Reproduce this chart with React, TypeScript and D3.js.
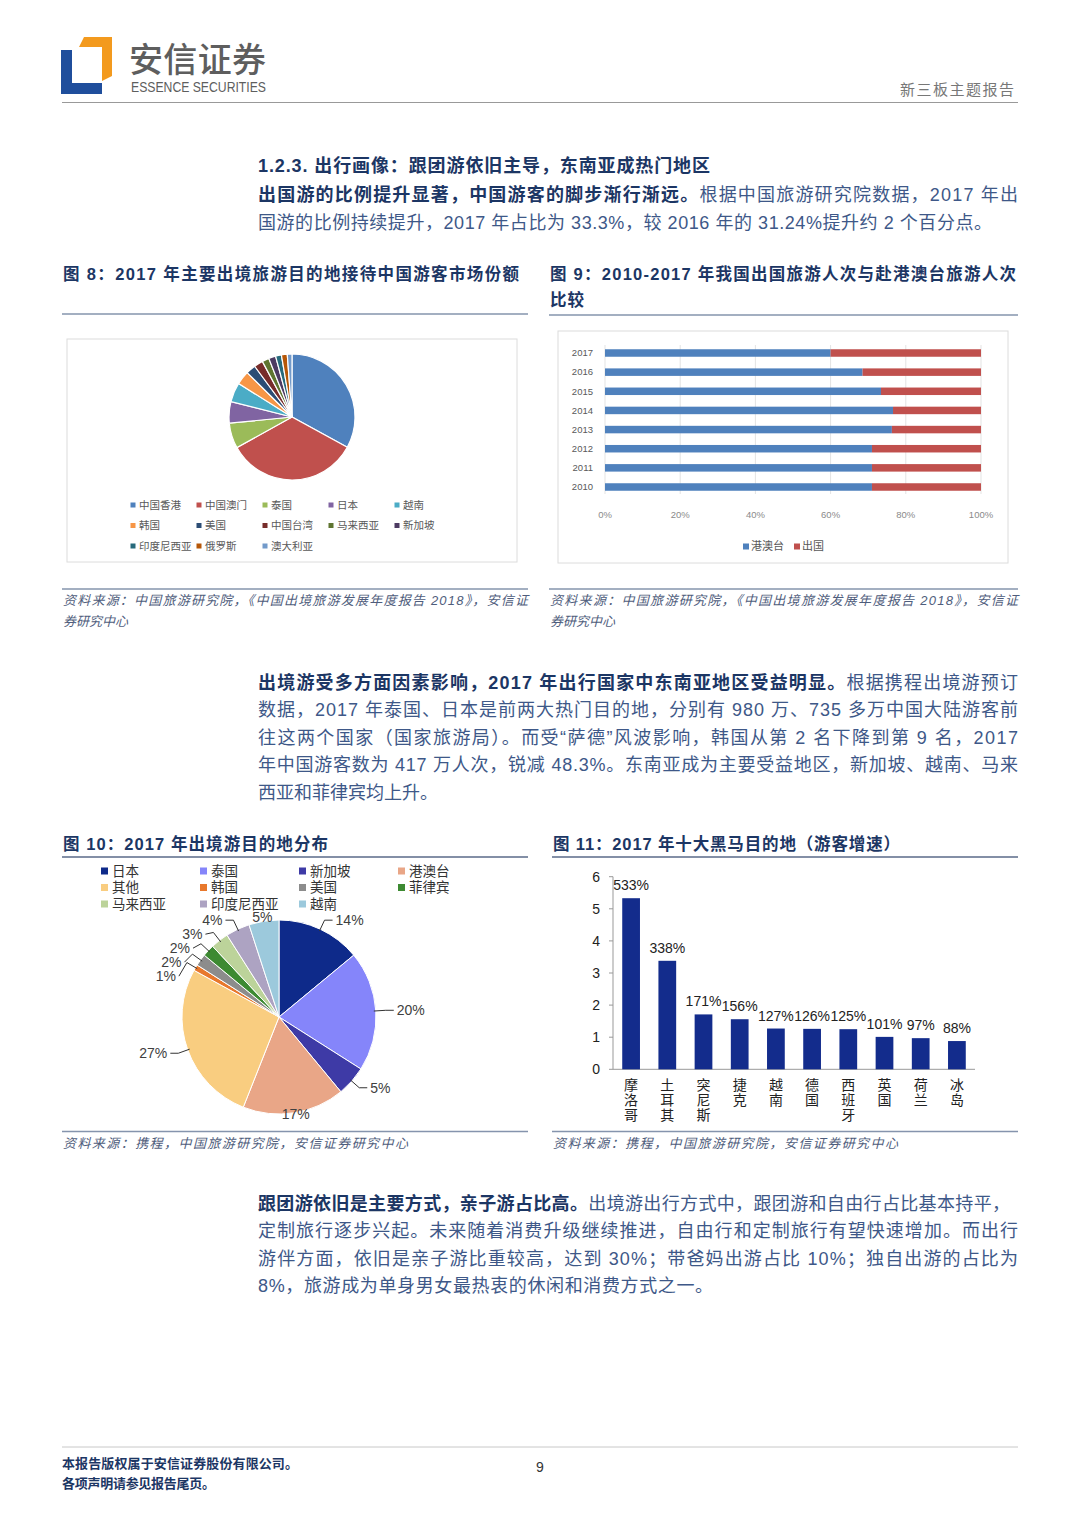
import * as d3 from 'd3';

const FONT = '"Liberation Sans", Arial, "Noto Sans CJK SC", sans-serif';
const NAVY = '#1c3664';
const BODY = '#3e5888';
const SRC = '#4f5d7c';
const RULE = '#8594ad';

// 图8 market share of main destinations
const shareNames = ['中国香港', '中国澳门', '泰国', '日本', '越南', '韩国', '美国', '中国台湾', '马来西亚', '新加坡', '印度尼西亚', '俄罗斯', '澳大利亚'];
const shareValues = [33, 34, 6.5, 5.5, 5, 3.5, 2.5, 2.3, 1.8, 1.8, 1.5, 1.5, 1.2];
const shareColors = ['#4F81BD', '#C0504D', '#9BBB59', '#8064A2', '#4BACC6', '#F79646', '#2C4D75', '#772C2A', '#5F7530', '#4D3B62', '#276A7C', '#B65708', '#729ACA'];

// 图9 share of HK/Macau/Taiwan trips vs outbound
const years = ['2017', '2016', '2015', '2014', '2013', '2012', '2011', '2010'];
const hmtShare = [60, 68.5, 73.4, 76.6, 76.3, 71, 71, 71];
const pctTicks = [0, 20, 40, 60, 80, 100];

// 图10 destination distribution
const destNames = ['日本', '泰国', '新加坡', '港澳台', '其他', '韩国', '美国', '菲律宾', '马来西亚', '印度尼西亚', '越南'];
const destValues = [14, 20, 5, 17, 27, 1, 2, 2, 3, 4, 5];
const destColors = ['#0E2A8A', '#8585FA', '#3E3AA6', '#E9A687', '#F9CD80', '#E8782C', '#8C8C8C', '#3D8A32', '#BCD39A', '#ADA3C2', '#9CC9DC'];

// 图11 top ten growth destinations
const growthNames = ['摩洛哥', '土耳其', '突尼斯', '捷克', '越南', '德国', '西班牙', '英国', '荷兰', '冰岛'];
const growthValues = [5.33, 3.38, 1.71, 1.56, 1.27, 1.26, 1.25, 1.01, 0.97, 0.88];
const growthTicks = [0, 1, 2, 3, 4, 5, 6];

type Part = { t: string; b?: boolean };

const TextLine = ({ x, y, parts, len, size = 18 }: { x: number; y: number; parts: Part[]; len?: number; size?: number }) => (
  <text x={x} y={y} fontSize={size} fontFamily={FONT} textLength={len} lengthAdjust={len ? 'spacing' : undefined}>
    {parts.map((p, i) => (
      <tspan key={i} fill={p.b ? NAVY : BODY} fontWeight={p.b ? 700 : 400}>{p.t}</tspan>
    ))}
  </text>
);

const Header = () => (
  <g>
    <path d="M61,50 L72,50 L72,83 L102,83 L102,94 L61,94 Z" fill="#1F4E9C" />
    <path d="M79,47 L84,37 L112,37 L112,76 L102,81 L102,47 Z" fill="#F39A1E" />
    <text x={129} y={72} fontSize={34} fontWeight={500} fill="#5e5e5e" fontFamily={FONT} textLength={137}>安信证券</text>
    <text x={131} y={92} fontSize={14} fill="#5e5e5e" fontFamily={FONT} textLength={135} lengthAdjust="spacingAndGlyphs">ESSENCE SECURITIES</text>
    <text x={900} y={95} fontSize={15} fill="#777" fontFamily={FONT} textLength={114}>新三板主题报告</text>
    <line x1={62} x2={1018} y1={102.5} y2={102.5} stroke="#999" />
  </g>
);

const Pie8 = () => {
  const cx = 292, cy = 417, r = 63;
  const arcs = d3.pie<number>().sort(null).value((d) => d)(shareValues);
  const arc = d3.arc<d3.PieArcDatum<number>>().innerRadius(0).outerRadius(r);
  return (
    <g>
      <rect x={67} y={339} width={450} height={223} fill="#fff" stroke="#dcdcdc" />
      <g transform={`translate(${cx},${cy})`}>
        {arcs.map((a, i) => (
          <path key={i} d={arc(a) || ''} fill={shareColors[i]} stroke="#fff" strokeWidth={1.2} />
        ))}
      </g>
      {shareNames.map((n, i) => {
        const col = i % 5, row = Math.floor(i / 5);
        const x = 133 + col * 66, y = 505 + row * 20.5;
        return (
          <g key={n}>
            <rect x={x - 2.5} y={y - 2.5} width={5} height={5} fill={shareColors[i]} />
            <text x={x + 6} y={y} dy="0.35em" fontSize={10.5} fill="#595959" fontFamily={FONT}>{n}</text>
          </g>
        );
      })}
    </g>
  );
};

const Bar9 = () => {
  const x = d3.scaleLinear().domain([0, 100]).range([605, 981]);
  const y = d3.scalePoint<string>().domain(years).range([353, 487]);
  const bh = 7.5;
  return (
    <g fontFamily={FONT}>
      <rect x={558} y={331} width={450} height={232} fill="#fff" stroke="#dcdcdc" />
      {pctTicks.map((t) => (
        <g key={t}>
          <line x1={x(t)} x2={x(t)} y1={345} y2={494} stroke="#e3e3e3" />
          <text x={x(t)} y={515} dy="0.35em" textAnchor="middle" fontSize={9.5} fill="#8a8a8a">{t}%</text>
        </g>
      ))}
      {years.map((yr, i) => (
        <g key={yr}>
          <rect x={x(0)} y={y(yr)! - bh / 2} width={x(hmtShare[i]) - x(0)} height={bh} fill="#4F81BD" />
          <rect x={x(hmtShare[i])} y={y(yr)! - bh / 2} width={x(100) - x(hmtShare[i])} height={bh} fill="#C0504D" />
          <text x={593} y={y(yr)!} dy="0.35em" textAnchor="end" fontSize={9.5} fill="#595959">{yr}</text>
        </g>
      ))}
      <rect x={743} y={543.5} width={6} height={6} fill="#4F81BD" />
      <text x={751} y={546.5} dy="0.35em" fontSize={11} fill="#595959">港澳台</text>
      <rect x={794} y={543.5} width={6} height={6} fill="#C0504D" />
      <text x={802} y={546.5} dy="0.35em" fontSize={11} fill="#595959">出国</text>
    </g>
  );
};

const Pie10 = () => {
  const cx = 279, cy = 1017, r = 97;
  const arcs = d3.pie<number>().sort(null).value((d) => d)(destValues);
  const arc = d3.arc<d3.PieArcDatum<number>>().innerRadius(0).outerRadius(r);

  // label layout: out along the mid angle, then a short horizontal elbow
  const labels = arcs.map((a, i) => {
    const m = (a.startAngle + a.endAngle) / 2;
    const px = (rr: number) => cx + Math.sin(m) * rr;
    const py = (rr: number) => cy - Math.cos(m) * rr;
    const dx = px(r + 10) - cx;
    const side = Math.abs(dx) < 25 ? 0 : dx > 0 ? 1 : -1;
    const x2 = px(r + 10), y2 = py(r + 10);
    return { i, side, x0: px(r - 2), y0: py(r - 2), x2, y2, x3: x2 + side * 8, ly: Math.min(Math.max(y2, 917), 1114) };
  });
  // upper-left labels are crowded: keep them at least 14px apart
  const upperLeft = labels.filter((l) => l.side < 0 && l.y2 < cy).sort((a, b) => a.ly - b.ly);
  upperLeft.forEach((l, k) => {
    if (k > 0) l.ly = Math.max(l.ly, upperLeft[k - 1].ly + 14);
  });

  return (
    <g fontFamily={FONT}>
      {destNames.map((n, i) => {
        const col = i % 4, row = Math.floor(i / 4);
        const x = 101 + col * 99, y = 871 + row * 16.5;
        return (
          <g key={n}>
            <rect x={x} y={y - 3.5} width={7} height={7} fill={destColors[i]} />
            <text x={x + 11} y={y} dy="0.36em" fontSize={13.5} fill="#333">{n}</text>
          </g>
        );
      })}
      <g transform={`translate(${cx},${cy})`}>
        {arcs.map((a, i) => (
          <path key={i} d={arc(a) || ''} fill={destColors[i]} stroke="#fff" strokeWidth={1} />
        ))}
      </g>
      {labels.map((l) => (
        <g key={l.i}>
          {l.side !== 0 && (
            <polyline points={`${l.x0},${l.y0} ${l.x2},${l.y2} ${l.x3},${l.ly}`} fill="none" stroke="#333" strokeWidth={1} />
          )}
          <text x={l.x3 + l.side * 3} y={l.ly} dy="0.35em" fontSize={14} fill="#404040"
            textAnchor={l.side === 0 ? 'middle' : l.side > 0 ? 'start' : 'end'}>{destValues[l.i]}%</text>
        </g>
      ))}
    </g>
  );
};

const Bar11 = () => {
  const x = d3.scaleBand<string>().domain(growthNames).range([613, 975]).paddingInner(0.51).paddingOuter(0.255);
  const y = d3.scaleLinear().domain([0, 6]).range([1069.3, 876.7]);
  return (
    <g fontFamily={FONT}>
      <line x1={613} x2={613} y1={y(6)} y2={y(0)} stroke="#999" />
      <line x1={613} x2={975} y1={y(0)} y2={y(0)} stroke="#999" />
      {growthTicks.map((t) => (
        <g key={t}>
          <line x1={609} x2={613} y1={y(t)} y2={y(t)} stroke="#999" />
          <text x={600} y={y(t)} dy="0.35em" textAnchor="end" fontSize={14} fill="#222">{t}</text>
        </g>
      ))}
      {growthNames.map((n, i) => {
        const bx = x(n)!, bw = x.bandwidth();
        return (
          <g key={n}>
            <rect x={bx} y={y(growthValues[i])} width={bw} height={y(0) - y(growthValues[i])} fill="#132C8C" />
            <text x={bx + bw / 2} y={y(growthValues[i]) - 8} textAnchor="middle" fontSize={14} fill="#222">
              {Math.round(growthValues[i] * 100)}%
            </text>
            {n.split('').map((c, k) => (
              <text key={k} x={bx + bw / 2} y={1085 + k * 15} dy="0.36em" textAnchor="middle" fontSize={14} fill="#222">{c}</text>
            ))}
          </g>
        );
      })}
    </g>
  );
};

const Caption = ({ x, y, t, len }: { x: number; y: number; t: string; len: number }) => (
  <text x={x} y={y} fontSize={16.5} fontWeight={700} fill={NAVY} fontFamily={FONT} textLength={len} lengthAdjust="spacing">{t}</text>
);

const Source = ({ x, y, t, len }: { x: number; y: number; t: string; len?: number }) => (
  <text x={x} y={y} fontSize={13} fontStyle="italic" fill={SRC} fontFamily={FONT} textLength={len} lengthAdjust={len ? 'spacing' : undefined}>{t}</text>
);

export default function App() {
  return (
    <svg width={1080} height={1527} style={{ position: 'absolute', left: 0, top: 0, background: '#fff' }}>
      <rect width={1080} height={1527} fill="#fff" />
      <Header />

      <TextLine x={258} y={172} len={452} parts={[{ t: '1.2.3. 出行画像：跟团游依旧主导，东南亚成热门地区', b: true }]} />
      <TextLine x={258} y={201} len={760} parts={[{ t: '出国游的比例提升显著，中国游客的脚步渐行渐远。', b: true }, { t: '根据中国旅游研究院数据，2017 年出' }]} />
      <TextLine x={258} y={229} len={734} parts={[{ t: '国游的比例持续提升，2017 年占比为 33.3%，较 2016 年的 31.24%提升约 2 个百分点。' }]} />

      <Caption x={63} y={280} t="图 8：2017 年主要出境旅游目的地接待中国游客市场份额" len={456} />
      <Caption x={550} y={280} t="图 9：2010-2017 年我国出国旅游人次与赴港澳台旅游人次" len={466} />
      <Caption x={550} y={306} t="比较" len={34} />
      <line x1={62} x2={528} y1={314} y2={314} stroke={RULE} strokeWidth={1.5} />
      <line x1={549} x2={1018} y1={315} y2={315} stroke={RULE} strokeWidth={1.5} />

      <Pie8 />
      <Bar9 />

      <line x1={62} x2={528} y1={589} y2={589} stroke={RULE} strokeWidth={1.5} />
      <line x1={549} x2={1018} y1={589} y2={589} stroke={RULE} strokeWidth={1.5} />
      <Source x={63} y={605} t="资料来源：中国旅游研究院，《中国出境旅游发展年度报告 2018》，安信证" len={465} />
      <Source x={63} y={626} t="券研究中心" />
      <Source x={550} y={605} t="资料来源：中国旅游研究院，《中国出境旅游发展年度报告 2018》，安信证" len={468} />
      <Source x={550} y={626} t="券研究中心" />

      <TextLine x={258} y={689} len={760} parts={[{ t: '出境游受多方面因素影响，2017 年出行国家中东南亚地区受益明显。', b: true }, { t: '根据携程出境游预订' }]} />
      <TextLine x={258} y={716} len={760} parts={[{ t: '数据，2017 年泰国、日本是前两大热门目的地，分别有 980 万、735 多万中国大陆游客前' }]} />
      <TextLine x={258} y={744} len={760} parts={[{ t: '往这两个国家（国家旅游局）。而受“萨德”风波影响，韩国从第 2 名下降到第 9 名，2017' }]} />
      <TextLine x={258} y={771} len={760} parts={[{ t: '年中国游客数为 417 万人次，锐减 48.3%。东南亚成为主要受益地区，新加坡、越南、马来' }]} />
      <TextLine x={258} y={799} len={180} parts={[{ t: '西亚和菲律宾均上升。' }]} />

      <Caption x={63} y={850} t="图 10：2017 年出境游目的地分布" len={265} />
      <Caption x={553} y={850} t="图 11：2017 年十大黑马目的地（游客增速）" len={347} />
      <line x1={62} x2={528} y1={857} y2={857} stroke="#5a6a88" strokeWidth={1.5} />
      <line x1={552} x2={1018} y1={857} y2={857} stroke="#5a6a88" strokeWidth={1.5} />

      <Pie10 />
      <Bar11 />

      <line x1={62} x2={528} y1={1131.5} y2={1131.5} stroke={RULE} strokeWidth={1.5} />
      <line x1={552} x2={1018} y1={1131.5} y2={1131.5} stroke={RULE} strokeWidth={1.5} />
      <Source x={63} y={1148} t="资料来源：携程，中国旅游研究院，安信证券研究中心" len={345} />
      <Source x={553} y={1148} t="资料来源：携程，中国旅游研究院，安信证券研究中心" len={345} />

      <TextLine x={258} y={1210} len={752} parts={[{ t: '跟团游依旧是主要方式，亲子游占比高。', b: true }, { t: '出境游出行方式中，跟团游和自由行占比基本持平，' }]} />
      <TextLine x={258} y={1237} len={760} parts={[{ t: '定制旅行逐步兴起。未来随着消费升级继续推进，自由行和定制旅行有望快速增加。而出行' }]} />
      <TextLine x={258} y={1265} len={760} parts={[{ t: '游伴方面，依旧是亲子游比重较高，达到 30%；带爸妈出游占比 10%；独自出游的占比为' }]} />
      <TextLine x={258} y={1292} len={455} parts={[{ t: '8%，旅游成为单身男女最热衷的休闲和消费方式之一。' }]} />

      <line x1={62} x2={1018} y1={1447} y2={1447} stroke="#c8c8c8" />
      <text x={62} y={1468} fontSize={13} fontWeight={700} fill={NAVY} fontFamily={FONT} textLength={236}>本报告版权属于安信证券股份有限公司。</text>
      <text x={62} y={1488} fontSize={13} fontWeight={700} fill={NAVY} fontFamily={FONT} textLength={153}>各项声明请参见报告尾页。</text>
      <text x={540} y={1472} fontSize={14} fill="#333" fontFamily={FONT} textAnchor="middle">9</text>
    </svg>
  );
}
